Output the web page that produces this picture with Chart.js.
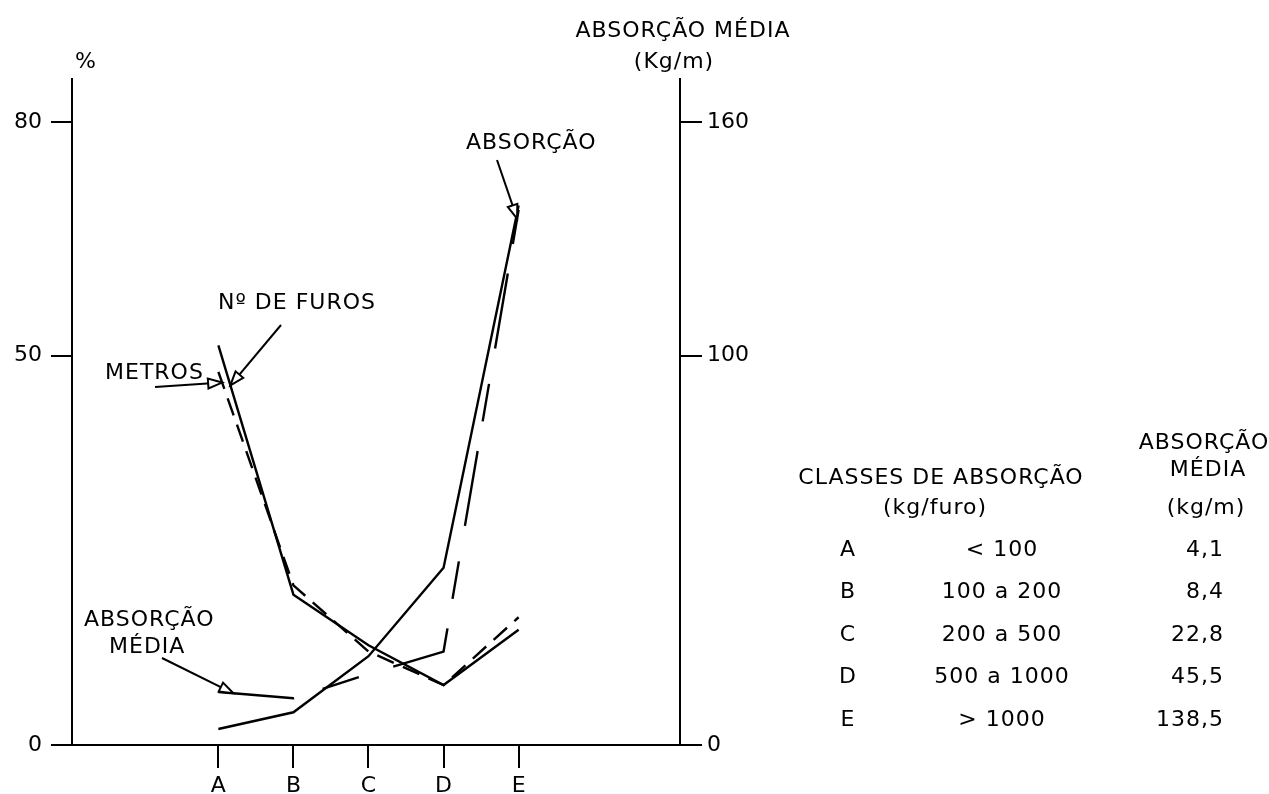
<!DOCTYPE html>
<html lang="pt">
<head>
<meta charset="utf-8">
<title>Classes de absorção</title>
<script src="https://cdn.jsdelivr.net/npm/chart.js@4.4.1/dist/chart.umd.min.js"></script>
<style>
  html, body { margin: 0; padding: 0; background: #fff; }
  #wrap { position: relative; width: 1269px; height: 794px; }
  canvas { display: block; }
</style>
</head>
<body>
<div id="wrap"><canvas id="grafico" width="1269" height="794"></canvas></div>
<script>
// Classes de absorção (kg/furo)
const categorias = ['A', 'B', 'C', 'D', 'E'];
const intervalos = ['< 100', '100 a 200', '200 a 500', '500 a 1000', '> 1000'];

// Percentagens (eixo esquerdo, %)
const nFuros   = [51.3, 19.3, 12.8, 7.7, 14.8];
const metros   = [47.9, 20.5, 12.0, 7.7, 16.4];
const absorcao = [6.8, 6.0, 9.1, 12.0, 68.7];

// Absorção média (eixo direito, kg/m)
const absorcaoMedia = [4.1, 8.4, 22.8, 45.5, 138.5];

// Marcas dos eixos
const ticksPercent = [0, 50, 80];
const ticksMedia   = [0, 100, 160];

const FONTE = '"DejaVu Sans", "Liberation Sans", sans-serif';
const TAM = 22;
const TINTA = '#000';

const pontos = arr => arr.map((v, i) => ({ x: i, y: v }));
const fmt = v => v.toFixed(1).replace('.', ',');

// Ponto sobre a linha de uma série, na posição fraccionária t (0 = A, 4 = E)
function pontoNaLinha(chart, dsIndex, t) {
  const meta = chart.getDatasetMeta(dsIndex);
  const i = Math.min(Math.floor(t), meta.data.length - 2);
  const f = t - i;
  const a = meta.data[i], b = meta.data[i + 1];
  return { x: a.x + (b.x - a.x) * f, y: a.y + (b.y - a.y) * f };
}

function seta(ctx, x0, y0, x1, y1) {
  ctx.beginPath();
  ctx.moveTo(x0, y0);
  ctx.lineTo(x1, y1);
  ctx.stroke();
  const ang = Math.atan2(y1 - y0, x1 - x0);
  const L = 14, W = 5;
  const bx = x1 - L * Math.cos(ang), by = y1 - L * Math.sin(ang);
  ctx.beginPath();
  ctx.moveTo(x1, y1);
  ctx.lineTo(bx + W * Math.sin(ang), by - W * Math.cos(ang));
  ctx.lineTo(bx - W * Math.sin(ang), by + W * Math.cos(ang));
  ctx.closePath();
  ctx.fillStyle = '#fff';
  ctx.fill();
  ctx.stroke();
}

// Rótulos das curvas com setas
const rotulos = [
  { linhas: ['Nº DE FUROS'], x: 218, y: 303, de: [281, 325], serie: 0, t: 0.16 },
  { linhas: ['METROS'], x: 105, y: 373, de: [155, 387], serie: 1, t: 0.05 },
  { linhas: ['ABSORÇÃO'], x: 466, y: 143, de: [497, 160], serie: 2, t: 3.98 },
  { linhas: ['ABSORÇÃO', 'MÉDIA'], x: 84, y: 620, dx: [0, 25], de: [162, 658], serie: 2, t: 0.2 }
];

const anotacoes = {
  id: 'anotacoes',
  afterDraw(chart) {
    const ctx = chart.ctx;
    ctx.save();
    ctx.fillStyle = TINTA;
    ctx.strokeStyle = TINTA;
    ctx.lineWidth = 2;
    ctx.font = TAM + 'px ' + FONTE;
    ctx.letterSpacing = '1px';
    ctx.textBaseline = 'middle';

    // Títulos dos eixos
    ctx.textAlign = 'center';
    ctx.fillText('%', 86, 62);
    ctx.fillText('ABSORÇÃO MÉDIA', 683, 31);
    ctx.fillText('(Kg/m)', 674, 62);

    // Rótulos e setas
    ctx.textAlign = 'left';
    rotulos.forEach(r => {
      r.linhas.forEach((txt, k) => {
        const dx = r.dx ? r.dx[k] : 0;
        ctx.fillStyle = TINTA;
        ctx.fillText(txt, r.x + dx, r.y + k * 27);
      });
      const p = pontoNaLinha(chart, r.serie, r.t);
      seta(ctx, r.de[0], r.de[1], p.x, p.y);
    });

    // Quadro das classes de absorção
    ctx.fillStyle = TINTA;
    ctx.textAlign = 'center';
    ctx.fillText('CLASSES DE ABSORÇÃO', 941, 478);
    ctx.fillText('(kg/furo)', 935, 508);
    ctx.fillText('ABSORÇÃO', 1204, 443);
    ctx.fillText('MÉDIA', 1208, 470);
    ctx.fillText('(kg/m)', 1206, 508);
    categorias.forEach((c, i) => {
      const y = 550 + i * 42.5;
      ctx.textAlign = 'center';
      ctx.fillText(c, 848, y);
      ctx.fillText(intervalos[i], 1002, y);
      ctx.textAlign = 'right';
      ctx.fillText(fmt(absorcaoMedia[i]), 1224, y);
    });
    ctx.restore();
  }
};

const linha = (dados, eixo, dash, offset) => ({
  data: pontos(dados),
  yAxisID: eixo,
  borderColor: TINTA,
  borderWidth: 2.4,
  borderDash: dash,
  borderDashOffset: offset || 0,
  pointRadius: 0,
  tension: 0,
  fill: false
});

const eixoComum = {
  grid: { display: true, drawOnChartArea: false, drawTicks: true, color: TINTA, lineWidth: 2 },
  border: { display: true, color: TINTA, width: 2 }
};
const fonteTicks = { family: FONTE, size: TAM };

new Chart(document.getElementById('grafico'), {
  type: 'line',
  data: {
    datasets: [
      linha(nFuros, 'y', []),
      linha(metros, 'y', [18, 10]),
      linha(absorcao, 'y', [76, 30, 38, 36], 0),
      linha(absorcaoMedia, 'y1', [])
    ]
  },
  options: {
    responsive: false,
    animation: false,
    events: [],
    layout: { padding: { top: 79, left: 0, right: 0, bottom: 0 } },
    plugins: { legend: { display: false }, tooltip: { enabled: false } },
    scales: {
      x: {
        type: 'linear',
        min: -1.95,
        max: 6.15,
        ...eixoComum,
        grid: { ...eixoComum.grid, tickLength: 23 },
        afterBuildTicks: s => { s.ticks = categorias.map((c, i) => ({ value: i })); },
        afterFit: s => { s.height = 49; },
        ticks: {
          color: TINTA, padding: 5, font: fonteTicks,
          maxRotation: 0, autoSkip: false,
          callback: v => categorias[v]
        }
      },
      y: {
        position: 'left',
        min: 0,
        max: 85.5,
        ...eixoComum,
        grid: { ...eixoComum.grid, tickLength: 21 },
        afterBuildTicks: s => { s.ticks = ticksPercent.map(v => ({ value: v })); },
        afterFit: s => { s.width = 72; },
        ticks: { color: TINTA, padding: 9, font: fonteTicks }
      },
      y1: {
        position: 'right',
        min: 0,
        max: 171,
        ...eixoComum,
        grid: { ...eixoComum.grid, tickLength: 22 },
        afterBuildTicks: s => { s.ticks = ticksMedia.map(v => ({ value: v })); },
        afterFit: s => { s.width = 589; },
        ticks: { color: TINTA, padding: 5, font: fonteTicks }
      }
    }
  },
  plugins: [anotacoes]
});
</script>
</body>
</html>
